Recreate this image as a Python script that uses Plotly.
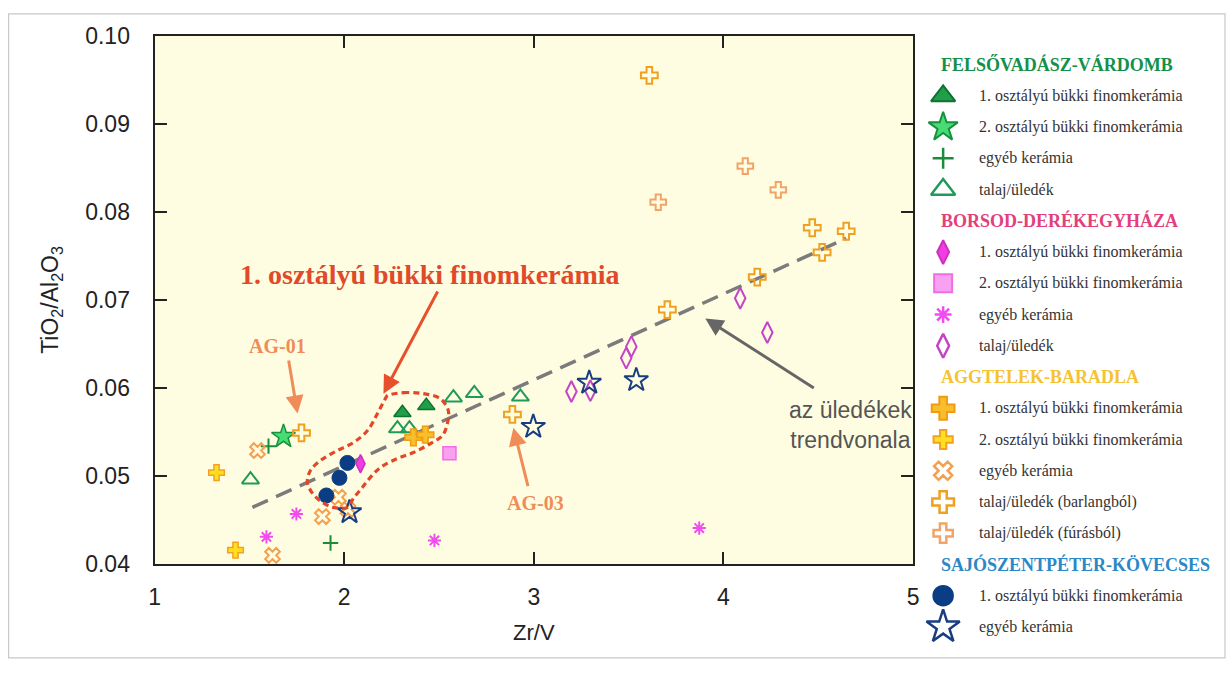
import plotly.graph_objects as go

W, H = 1232, 673

# ---------------- data (Zr/V, TiO2/Al2O3) ----------------
fv_cls1_x = [2.307, 2.433]
fv_cls1_y = [0.0572, 0.0580]
fv_cls2_x = [1.680]
fv_cls2_y = [0.0545]
fv_other_x = [1.601, 1.928]
fv_other_y = [0.0534, 0.0424]
fv_soil_x = [1.506, 2.281, 2.344, 2.576, 2.686, 2.929]
fv_soil_y = [0.0496, 0.0554, 0.0554, 0.0589, 0.0594, 0.0590]

bd_cls1_x = [2.086]
bd_cls1_y = [0.0514]
bd_cls2_x = [2.555]
bd_cls2_y = [0.0526]
bd_other_x = [1.590, 1.748, 2.476, 3.872]
bd_other_y = [0.0431, 0.0457, 0.0427, 0.0441]
bd_soil_x = [3.198, 3.298, 3.487, 3.514, 4.088, 4.231]
bd_soil_y = [0.0596, 0.0597, 0.0634, 0.0647, 0.0702, 0.0663]

ab_cls1_x = [2.365, 2.428]
ab_cls1_y = [0.0544, 0.0547]
ab_cls2_x = [1.327, 1.427]
ab_cls2_y = [0.0504, 0.0416]
ab_other_x = [1.543, 1.622, 1.885, 1.970, 2.020]
ab_other_y = [0.0529, 0.0410, 0.0454, 0.0476, 0.0462]
ab_cave_x = [1.775, 2.887, 3.609, 4.468, 4.647, 4.520, 4.178, 3.704]
ab_cave_y = [0.0549, 0.0570, 0.0955, 0.0782, 0.0778, 0.0754, 0.0726, 0.0689]
ab_drill_x = [4.115, 4.289, 3.656]
ab_drill_y = [0.0852, 0.0825, 0.0811]

sk_cls1_x = [2.017, 1.975, 1.906]
sk_cls1_y = [0.0515, 0.0498, 0.0478]
sk_other_x = [2.028, 2.997, 3.292, 3.540]
sk_other_y = [0.0459, 0.0556, 0.0606, 0.0609]

trend_x = [1.516, 4.647]
trend_y = [0.04645, 0.0770]

# outline of the "1. osztályú" group (annotation)
blob_x = [2.228, 2.312, 2.418, 2.507, 2.549, 2.544, 2.518, 2.455, 2.365, 2.281,
          2.191, 2.138, 2.096, 2.049, 2.017, 1.943, 1.885, 1.833, 1.806, 1.822,
          1.875, 1.964, 2.049, 2.123, 2.175, 2.217, 2.228]
blob_y = [0.05913, 0.05947, 0.05936, 0.05879, 0.05743, 0.05596, 0.0546, 0.0537,
          0.05268, 0.052, 0.05098, 0.04985, 0.04872, 0.04747, 0.04645, 0.04645,
          0.04702, 0.04804, 0.04928, 0.05064, 0.05177, 0.0529, 0.05381, 0.05517,
          0.05709, 0.05879, 0.05913]

x_ticks = [1, 2, 3, 4, 5]
y_ticks = [0.04, 0.05, 0.06, 0.07, 0.08, 0.09, 0.10]

ITEM_CLS1 = "1. osztályú bükki finomkerámia"
ITEM_CLS2 = "2. osztályú bükki finomkerámia"
ITEM_OTHER = "egyéb kerámia"
ITEM_SOIL = "talaj/üledék"

# series: (label, x, y, symbol, size, legend size, fill, line colour, line width)
groups = [
    ("FELSŐVADÁSZ-VÁRDOMB", "#15904a", [
        (ITEM_CLS1, fv_cls1_x, fv_cls1_y, "triangle-up", 15, 21, "#1fa048", "#0e7230", 1.5),
        (ITEM_CLS2, fv_cls2_x, fv_cls2_y, "star", 18, 22, "#49dc74", "#17913e", 1.5),
        (ITEM_OTHER, fv_other_x, fv_other_y, "cross-thin-open", 11, 15, "#1a8c3a", "#1a8c3a", 2),
        (ITEM_SOIL, fv_soil_x, fv_soil_y, "triangle-up-open", 15, 21, "#1f9a5a", "#1f9a5a", 2),
    ]),
    ("BORSOD-DERÉKEGYHÁZA", "#e2407c", [
        (ITEM_CLS1, bd_cls1_x, bd_cls1_y, "diamond-tall", 13, 17, "#f03fe0", "#cf2fc0", 1.5),
        (ITEM_CLS2, bd_cls2_x, bd_cls2_y, "square", 13, 18, "#f9a0f0", "#f06ee0", 1.5),
        (ITEM_OTHER, bd_other_x, bd_other_y, "asterisk-open", 11, 14, "#f04cf0", "#f04cf0", 2),
        (ITEM_SOIL, bd_soil_x, bd_soil_y, "diamond-tall-open", 15, 17, "#c444c8", "#c444c8", 2),
    ]),
    ("AGGTELEK-BARADLA", "#f4c232", [
        (ITEM_CLS1, ab_cls1_x, ab_cls1_y, "cross", 14, 19, "#f8be2c", "#ee9c12", 1.5),
        (ITEM_CLS2, ab_cls2_x, ab_cls2_y, "cross", 13, 16, "#ffe020", "#f5a020", 1.5),
        (ITEM_OTHER, ab_other_x, ab_other_y, "x-open", 13, 16, "#f3a050", "#f3a050", 2),
        ("talaj/üledék (barlangból)", ab_cave_x, ab_cave_y, "cross-open", 14, 18, "#f0a020", "#f0a020", 2),
        ("talaj/üledék (fúrásból)", ab_drill_x, ab_drill_y, "cross-open", 13, 16, "#f2a468", "#f2a468", 2),
    ]),
    ("SAJÓSZENTPÉTER-KÖVECSES", "#2a88c6", [
        (ITEM_CLS1, sk_cls1_x, sk_cls1_y, "circle", 15, 20, "#0b3d85", "#0b3d85", 1),
        (ITEM_OTHER, sk_other_x, sk_other_y, "star-open", 18, 25, "#1a3d80", "#1a3d80", 2),
    ]),
]

SERIF = "Liberation Serif, Times New Roman, serif"
SANS = "Liberation Sans, Arial, sans-serif"

# effective drawing area of the page (compensates the viewer's placement)
OX, OY, EW, EH = 5.4, 11.2, 1220.6, 648.9


def fx(px):
    return (px - OX) / EW


def fy(py):
    return 1 - (py - OY) / EH


fig = go.Figure()

# trend line of the sediments
fig.add_trace(go.Scatter(
    x=trend_x, y=trend_y, mode="lines", showlegend=False, hoverinfo="skip",
    line=dict(color="#7b7b7b", width=3.5, dash="17px,9px"),
    xaxis="x", yaxis="y"))

# data markers
for gtitle, gcol, items in groups:
    for (lab, xs, ys, sym, size, lsize, fill, lcol, lw) in items:
        fig.add_trace(go.Scatter(
            x=xs, y=ys, mode="markers", name=f"{gtitle}: {lab}", showlegend=False,
            marker=dict(symbol=sym, size=size, color=fill,
                        line=dict(color=lcol, width=lw)),
            xaxis="x", yaxis="y"))

# outline of the fine-ware group
fig.add_trace(go.Scatter(
    x=blob_x, y=blob_y, mode="lines", showlegend=False, hoverinfo="skip",
    line=dict(color="#e2472a", width=3.2, dash="6px,4px", shape="spline", smoothing=1.0),
    xaxis="x", yaxis="y"))

# ---------------- manual legend (pixel-like coords on hidden axes) ----------------
LEG_SYM_X = 943
LEG_TXT_X = 977
LEG_TITLE_X = 939
ROW0 = 63
ROW_STEP = 31.33

annotations = []
row = 0
for gtitle, gcol, items in groups:
    ty = ROW0 + row * ROW_STEP
    annotations.append(dict(
        x=LEG_TITLE_X, y=ty, xref="x2", yref="y2", text=f"<b>{gtitle}</b>",
        showarrow=False, xanchor="left", yanchor="middle",
        font=dict(family=SERIF, size=18, color=gcol)))
    row += 1
    for (lab, xs, ys, sym, size, lsize, fill, lcol, lw) in items:
        iy = ROW0 + row * ROW_STEP
        fig.add_trace(go.Scatter(
            x=[LEG_SYM_X], y=[iy], mode="markers", showlegend=False, hoverinfo="skip",
            marker=dict(symbol=sym, size=lsize, color=fill,
                        line=dict(color=lcol, width=lw + 0.5)),
            xaxis="x2", yaxis="y2"))
        annotations.append(dict(
            x=LEG_TXT_X, y=iy, xref="x2", yref="y2", text=lab,
            showarrow=False, xanchor="left", yanchor="middle",
            font=dict(family=SERIF, size=16, color="#333333")))
        row += 1

# ---------------- chart annotations ----------------
ARW = dict(xref="x", yref="y", axref="x", ayref="y", text="", showarrow=True,
           arrowhead=2, arrowsize=1.2, arrowwidth=3)
annotations += [
    dict(x=2.455, y=0.07294, xref="x", yref="y", showarrow=False,
         text="<b>1. osztályú bükki finomkerámia</b>",
         font=dict(family=SERIF, size=28, color="#e0492a")),
    dict(x=2.207, y=0.05936, ax=2.497, ay=0.07113, arrowcolor="#e8502c", **ARW),
    dict(x=1.648, y=0.0648, xref="x", yref="y", showarrow=False,
         text="<b>AG-01</b>", font=dict(family=SERIF, size=20, color="#f08c58")),
    dict(x=1.754, y=0.0571, ax=1.706, ay=0.0633, arrowcolor="#f08c58", **ARW),
    dict(x=3.008, y=0.0469, xref="x", yref="y", showarrow=False,
         text="<b>AG-03</b>", font=dict(family=SERIF, size=20, color="#f08c58")),
    dict(x=2.892, y=0.0555, ax=2.971, ay=0.0487, arrowcolor="#f08c58", **ARW),
    dict(x=4.668, y=0.0558, xref="x", yref="y", showarrow=False,
         text="az üledékek<br>trendvonala",
         font=dict(family=SANS, size=23, color="#555555")),
    dict(x=3.904, y=0.0679, ax=4.484, ay=0.0599, arrowcolor="#666666", **ARW),
]

shapes = [
    dict(type="rect", xref="x domain", yref="y domain", x0=0, x1=1, y0=0, y1=1,
         fillcolor="#fffde1", line=dict(width=0), layer="below"),
    dict(type="rect", xref="paper", yref="paper",
         x0=fx(8), x1=fx(1225), y0=fy(658), y1=min(fy(5), 0.9985),
         line=dict(color="#c8c8c8", width=1.2), fillcolor="rgba(0,0,0,0)", layer="below"),
]

axis_common = dict(
    showline=True, linecolor="#222222", linewidth=2, mirror="ticks",
    ticks="inside", ticklen=12, tickwidth=2, tickcolor="#222222",
    showgrid=False, zeroline=False,
    tickfont=dict(family=SANS, size=23, color="#222222"),
)

fig.update_layout(
    width=W, height=H, autosize=False,
    margin=dict(l=0, r=0, t=0, b=0),
    paper_bgcolor="white", plot_bgcolor="rgba(0,0,0,0)",
    showlegend=False,
    xaxis=dict(domain=[fx(154), fx(913)], range=[1, 5], tickvals=x_ticks,
               ticktext=[str(v) for v in x_ticks], ticklabelstandoff=11,
               title=dict(text="Zr/V", font=dict(family=SANS, size=22, color="#222222"),
                          standoff=16),
               anchor="y", **axis_common),
    yaxis=dict(domain=[fy(564), fy(34)], range=[0.04, 0.10], tickvals=y_ticks,
               ticktext=[f"{v:.2f}" for v in y_ticks], ticklabelstandoff=18,
               title=dict(text="TiO<sub>2</sub>/Al<sub>2</sub>O<sub>3</sub>",
                          font=dict(family=SANS, size=23, color="#222222"), standoff=20),
               anchor="x", **axis_common),
    xaxis2=dict(domain=[fx(924), 1], range=[924, OX + EW], visible=False,
                fixedrange=True, anchor="y2"),
    yaxis2=dict(domain=[0, 1], range=[OY + EH, OY], visible=False,
                fixedrange=True, anchor="x2"),
    annotations=annotations,
    shapes=shapes,
)

fig.write_html(
    "out.html",
    config={"responsive": False, "displayModeBar": False},
    post_script="document.body.style.margin='0';document.body.style.overflow='hidden';",
)
